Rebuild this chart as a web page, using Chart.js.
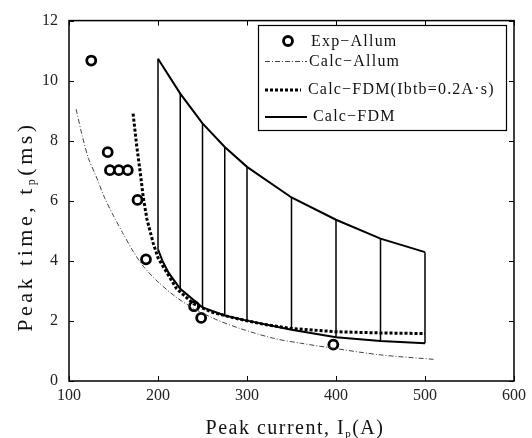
<!DOCTYPE html>
<html lang="en">
<head>
<meta charset="UTF-8">
<title>Peak time vs peak current</title>
<script src="https://cdn.jsdelivr.net/npm/chart.js"></script>
<style>
  body { margin: 0; padding: 0; background: #fff; }
  canvas { display: block; }
</style>
</head>
<body>
<canvas id="peakChart" width="532" height="438"></canvas>
<script>
// Exp-Allum, measured points
const expCurrent = [125, 143.5, 146, 156, 166, 177, 186.5, 240.5, 248.5, 397];
const expTime    = [10.67, 7.62, 7.02, 7.02, 7.02, 6.03, 4.05, 2.49, 2.10, 1.21];

// Calc-Allum
const allumCurrent = [108, 115, 122, 130, 140, 150, 160, 172, 184, 200, 220, 240, 265, 292, 330, 360, 395, 450, 510];
const allumTime    = [9.05, 8.15, 7.4, 6.85, 6.1, 5.5, 4.95, 4.32, 3.8, 3.3, 2.8, 2.42, 2.05, 1.75, 1.42, 1.26, 1.1, 0.87, 0.72];

// Calc-FDM(Ibtb=0.2A·s)
const ibtbCurrent = [172, 176, 180, 183.5, 187.5, 194.5, 200, 205, 221, 240, 260, 285, 320, 350, 400, 450, 500];
const ibtbTime    = [8.9, 7.85, 6.95, 6.1, 5.4, 4.6, 4.1, 3.85, 3.07, 2.57, 2.3, 2.1, 1.88, 1.75, 1.64, 1.6, 1.58];

// Calc-FDM band : upper limit at each computed current, lower limit curve
const fdmCurrent    = [200, 225, 250, 275, 300, 350, 400, 450, 500];
const fdmUpper      = [10.73, 9.57, 8.58, 7.79, 7.13, 6.11, 5.37, 4.74, 4.29];
const fdmLowCurrent = [200, 205, 212, 225, 250, 275, 300, 350, 400, 450, 500];
const fdmLower      = [4.38, 4.0, 3.6, 3.07, 2.45, 2.18, 2.01, 1.71, 1.46, 1.33, 1.26];

// axes
const xTicks = [100, 200, 300, 400, 500, 600];
const yTicks = [0, 2, 4, 6, 8, 10, 12];
const legendLabels = ['Exp\u2212Allum', 'Calc\u2212Allum', 'Calc\u2212FDM(Ibtb=0.2A\u00b7s)', 'Calc\u2212FDM'];

const SERIF = '"Liberation Serif", "DejaVu Serif", serif';

const pairs = (xs, ys) => xs.map((v, i) => ({ x: v, y: ys[i] }));

// vertical bars between lower and upper limit, broken by null points
const barPoints = [];
fdmCurrent.forEach((c, i) => {
    const low = fdmLower[fdmLowCurrent.indexOf(c)];
    barPoints.push({ x: c, y: low }, { x: c, y: fdmUpper[i] }, { x: c, y: null });
});

const lineBase = { showLine: true, pointRadius: 0, fill: false, borderColor: '#000', spanGaps: false };

const datasets = [
    { ...lineBase, label: 'allum', data: pairs(allumCurrent, allumTime),
      borderColor: '#444', borderWidth: 1, borderDash: [5, 2, 1, 2], tension: 0.3 },
    { ...lineBase, label: 'ibtb', data: pairs(ibtbCurrent, ibtbTime),
      borderWidth: 3, borderDash: [3, 2] },
    { ...lineBase, label: 'upper', data: pairs(fdmCurrent, fdmUpper), borderWidth: 2 },
    { ...lineBase, label: 'lower', data: pairs(fdmLowCurrent, fdmLower), borderWidth: 2 },
    { ...lineBase, label: 'bars', data: barPoints, borderWidth: 1.5 },
    { label: 'exp', data: pairs(expCurrent, expTime), showLine: false,
      pointStyle: 'circle', pointRadius: 4.5, borderWidth: 2.8,
      borderColor: '#000', backgroundColor: '#fff' }
];

// text made of pieces, the small ones are subscripts
function richWidth(ctx, parts) {
    let w = 0;
    parts.forEach(p => { ctx.font = p.size + 'px ' + SERIF; w += ctx.measureText(p.t).width; });
    return w;
}
function drawRich(ctx, parts, cx, base) {
    let xPos = cx - richWidth(ctx, parts) / 2;
    parts.forEach(p => {
        ctx.font = p.size + 'px ' + SERIF;
        ctx.fillText(p.t, xPos, base + (p.dy || 0));
        xPos += ctx.measureText(p.t).width;
    });
}

const paperPlugin = {
    id: 'paper',
    afterDraw(chart) {
        const { ctx, chartArea: a, scales: { x, y } } = chart;
        ctx.save();
        ctx.strokeStyle = '#000';
        ctx.setLineDash([]);

        // frame and inward ticks
        ctx.lineWidth = 1.5;
        ctx.strokeRect(a.left, a.top, a.right - a.left, a.bottom - a.top);
        ctx.lineWidth = 1;
        ctx.beginPath();
        xTicks.forEach(v => {
            const px = Math.round(x.getPixelForValue(v)) + 0.5;
            ctx.moveTo(px, a.bottom); ctx.lineTo(px, a.bottom - 5);
            ctx.moveTo(px, a.top); ctx.lineTo(px, a.top + 5);
        });
        yTicks.forEach(v => {
            const py = Math.round(y.getPixelForValue(v)) + 0.5;
            ctx.moveTo(a.left, py); ctx.lineTo(a.left + 5, py);
            ctx.moveTo(a.right, py); ctx.lineTo(a.right - 5, py);
        });
        ctx.stroke();

        // legend
        const box = { l: 258.5, t: 25.5, w: 248, h: 105 };
        ctx.fillStyle = '#fff';
        ctx.fillRect(box.l, box.t, box.w, box.h);
        ctx.lineWidth = 1.2;
        ctx.strokeRect(box.l, box.t, box.w, box.h);

        const rows = [42, 61.5, 90, 117];
        const styleOf = [datasets[5], datasets[0], datasets[1], datasets[2]];
        const textX = [311, 309, 308, 313];
        rows.forEach((ry, i) => {
            const ds = styleOf[i];
            if (i === 0) {
                ctx.beginPath();
                ctx.arc(288, ry - 1, 4.5, 0, Math.PI * 2);
                ctx.fillStyle = '#fff';
                ctx.fill();
                ctx.lineWidth = 2.8;
                ctx.strokeStyle = '#000';
                ctx.setLineDash([]);
                ctx.stroke();
            } else {
                ctx.beginPath();
                ctx.strokeStyle = ds.borderColor;
                ctx.lineWidth = ds.borderWidth;
                ctx.setLineDash(ds.borderDash || []);
                ctx.moveTo(265, ry);
                ctx.lineTo(i === 2 ? 301 : 307, ry);
                ctx.stroke();
            }
            ctx.setLineDash([]);
            ctx.fillStyle = '#111';
            ctx.font = '16px ' + SERIF;
            ctx.letterSpacing = '1.2px';
            ctx.textBaseline = 'middle';
            ctx.textAlign = 'left';
            ctx.fillText(legendLabels[i], textX[i], ry);
        });

        // axis titles
        ctx.fillStyle = '#111';
        ctx.textBaseline = 'alphabetic';
        ctx.letterSpacing = '1.5px';
        drawRich(ctx, [
            { t: 'Peak current, I', size: 20 },
            { t: 'p', size: 11, dy: 3 },
            { t: '(A)', size: 20 }
        ], 295, 434);

        ctx.translate(32, 226.5);
        ctx.rotate(-Math.PI / 2);
        ctx.letterSpacing = '3.5px';
        drawRich(ctx, [
            { t: 'Peak time, t', size: 22 },
            { t: 'p', size: 12, dy: 3 },
            { t: '(ms)', size: 22 }
        ], 0, 0);
        ctx.restore();
    }
};

const tickFont = { family: SERIF, size: 16 };

new Chart(document.getElementById('peakChart'), {
    type: 'scatter',
    data: { datasets },
    options: {
        responsive: false,
        animation: false,
        layout: { padding: { top: 17, right: 18, left: 0, bottom: 0 } },
        plugins: { legend: { display: false }, tooltip: { enabled: false } },
        scales: {
            x: {
                type: 'linear', min: 100, max: 600,
                afterBuildTicks: s => { s.ticks = xTicks.map(v => ({ value: v })); },
                afterFit: s => { s.height = 57; },
                grid: { display: false, drawTicks: false },
                border: { display: false },
                ticks: { font: tickFont, color: '#222', padding: 5, maxRotation: 0 }
            },
            y: {
                type: 'linear', min: 0, max: 12,
                afterBuildTicks: s => { s.ticks = yTicks.map(v => ({ value: v })); },
                afterFit: s => { s.width = 69; },
                grid: { display: false, drawTicks: false },
                border: { display: false },
                ticks: { font: tickFont, color: '#222', padding: 11 }
            }
        }
    },
    plugins: [paperPlugin]
});
</script>
</body>
</html>
